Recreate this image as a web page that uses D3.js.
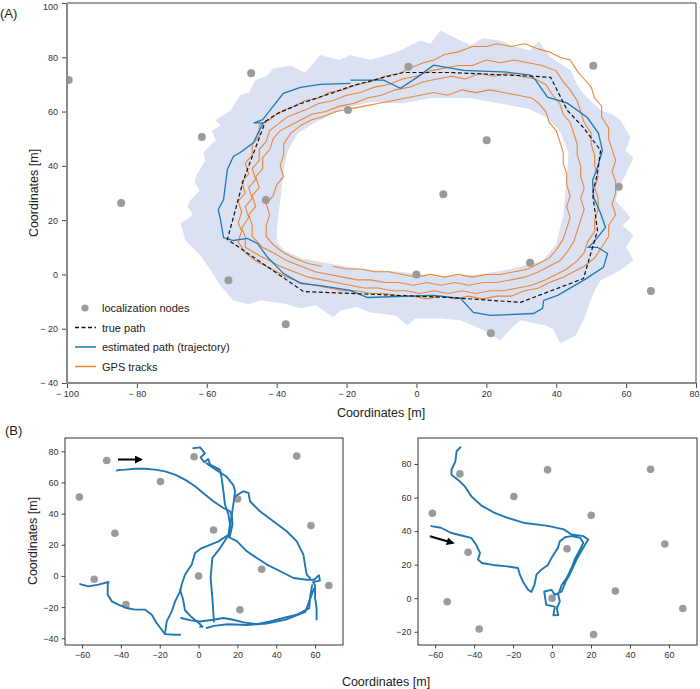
<!DOCTYPE html>
<html>
<head>
<meta charset="utf-8">
<script src="https://cdn.jsdelivr.net/npm/d3@7"></script>
<style>
  body { margin: 0; background: #fff; }
  svg { font-family: "Liberation Sans", Arial, sans-serif; }
</style>
</head>
<body>
<script>
// ---- data (metres) ----
const nodeX = [-99.5, -84.5, -61.4, -47.3, -43.1, -53.8, -37.4, -19.6, -2.3, 0, 7.7, 20.1, 21.3, 32.5, 50.6, 57.9, 67.1];
const nodeY = [71.6, 26.3, 50.6, 74.1, 27.4, -2.1, -18.4, 60.6, 76.5, 0, 29.5, 49.4, -21.7, 4.3, 76.9, 32.3, -6.1];

const truePath = [[-43.2,56.4],[-39.8,59.3],[-33.2,62.9],[-23.8,67],[-18.9,69.3],[-9.4,72.6],[-3.7,74.4],[9.7,74.4],[33.5,73],[38.4,72.6],[43.2,60.4],[47.8,54.1],[52.7,45.7],[51.8,37.2],[50.4,29.8],[51.8,16.2],[47.8,-1.5],[29.8,-10.3],[9.7,-8.5],[-18.9,-7],[-32.3,-6.3],[-54.1,12.9],[-49.5,34.8],[-43.2,56.4]];

const estPath = [[-18.9,70.4],[-27.5,70],[-33.2,68.9],[-38.1,66.7],[-42.6,59.3],[-44,57],[-46.6,55.8],[-43.8,55.8],[-45,53],[-46.6,48.6],[-50.4,44.9],[-52.4,43.5],[-54.1,38.7],[-55.2,27.6],[-56.7,23.9],[-56.1,20.3],[-55.2,13.6],[-52.4,12.5],[-48.4,13.3],[-45.5,11.4],[-42.6,6.3],[-38.1,0.4],[-33.2,-3.3],[-27.5,-4.1],[-18.9,-5.9],[-14,-8.5],[4.9,-7.7],[12.6,-8.8],[16.3,-14],[21.2,-15.1],[33.5,-14.4],[36.1,-12.5],[36.4,-9.6],[40.4,-7.7],[47.8,-2.2],[53.5,2.6],[54.7,7.7],[51.8,10],[49.2,10],[50.7,11.8],[54.1,17.3],[52.7,22.5],[50.7,28.4],[50.4,34.6],[51.8,39.4],[53.2,45.7],[52.1,52],[48.9,57.8],[43.2,63.1],[37.5,65.3],[34.1,71.6],[32.6,73.4],[26,74.5],[13.5,75.2],[4.9,77.1],[0.3,72.7],[-4.6,68.6],[-9.4,71.6],[-18.9,71.6]];

const gps1 = [[-51,12],[-50,16],[-51,19],[-50,23],[-51,27],[-49,30],[-50,34],[-48,37],[-49,41],[-47,44],[-47,48],[-45,51],[-45,55],[-42,57],[-40,59],[-37,61],[-35,62],[-32,64],[-28,65],[-25,67],[-21,68],[-17,70],[-13,71],[-9,73],[-5,74],[-2,76],[2,78],[5,79],[8,81],[12,82],[16,84],[20,84],[23,85],[27,84],[31,85],[35,83],[38,82],[41,80],[44,79],[46,75],[48,72],[50,69],[51,65],[53,62],[53,58],[55,54],[55,50],[56,46],[57,42],[56,38],[57,34],[57,30],[56,26],[57,22],[55,18],[55,14],[53,10],[51,6],[48,3],[45,1],[42,-1],[38,-3],[35,-5],[31,-6],[27,-8],[23,-8],[19,-9],[15,-8],[11,-9],[7,-8],[3,-9],[-1,-8],[-5,-8],[-9,-7],[-13,-7],[-17,-6],[-21,-6],[-25,-5],[-29,-4],[-33,-3],[-37,-1],[-40,1],[-43,3],[-46,5],[-49,8],[-51,12]];
const gps2 = [[-49,10],[-49,14],[-50,17],[-48,21],[-49,25],[-47,28],[-48,32],[-46,35],[-47,39],[-45,42],[-45,46],[-43,49],[-42,53],[-40,55],[-37,58],[-35,59],[-31,61],[-28,63],[-24,64],[-20,66],[-16,67],[-12,69],[-8,70],[-4,72],[0,73],[4,75],[8,76],[12,77],[16,77],[20,79],[24,78],[28,79],[32,78],[36,77],[40,75],[42,71],[44,68],[46,64],[47,60],[48,56],[50,52],[50,48],[51,44],[51,40],[52,36],[51,32],[52,28],[52,24],[51,20],[51,16],[49,12],[48,8],[46,5],[43,2],[40,0],[37,-2],[33,-4],[29,-5],[25,-6],[21,-6],[17,-7],[13,-6],[9,-7],[5,-6],[1,-7],[-3,-6],[-7,-6],[-11,-5],[-15,-5],[-19,-4],[-23,-3],[-27,-2],[-31,-1],[-35,1],[-39,3],[-42,5],[-45,7],[-49,10]];
const gps3 = [[-47,14],[-47,18],[-48,22],[-46,25],[-47,29],[-45,32],[-46,36],[-44,39],[-44,43],[-42,46],[-41,50],[-39,53],[-36,55],[-33,57],[-30,59],[-26,60],[-22,62],[-18,63],[-14,65],[-10,66],[-6,68],[-2,69],[2,71],[6,72],[10,73],[14,72],[18,74],[22,73],[26,74],[30,73],[34,72],[37,70],[39,66],[41,63],[42,59],[44,56],[45,52],[46,48],[46,44],[47,40],[47,36],[48,32],[47,28],[48,24],[47,20],[46,16],[45,12],[43,8],[41,5],[38,3],[35,1],[31,-1],[27,-2],[23,-3],[19,-3],[15,-4],[11,-3],[7,-4],[3,-3],[-1,-4],[-5,-3],[-9,-3],[-13,-2],[-17,-2],[-21,-1],[-25,0],[-29,1],[-33,3],[-37,5],[-41,8],[-44,10],[-47,14]];
const gps4 = [[-27,3],[-31,4],[-35,6],[-38,8],[-41,11],[-43,14],[-43,18],[-42,22],[-43,26],[-41,29],[-40,33],[-38,36],[-39,40],[-38,44],[-38,48],[-36,52],[-33,55],[-30,57],[-27,58],[-23,60],[-19,61],[-15,62],[-11,63],[-7,64],[-3,65],[1,66],[5,67],[9,66],[13,68],[17,67],[21,68],[25,67],[29,66],[33,65],[35,63],[37,60],[38,56],[40,53],[41,49],[42,45],[42,41],[43,37],[43,33],[44,29],[43,25],[44,21],[43,17],[42,13],[40,9],[38,6],[35,4],[32,2],[28,1],[24,0],[20,0],[16,-1],[12,0],[8,-1],[4,0],[0,-1],[-4,0],[-8,1],[-12,1],[-16,2],[-20,2],[-24,3]];
const gpsTracks = [gps1, gps2, gps3, gps4];

const cloudOuter = [[-67.5,18.8],[-64,22],[-65.5,25],[-64.7,27.3],[-62,31],[-63.5,34],[-62.7,37.2],[-60.4,42],[-61,45],[-57.5,49.4],[-58.5,53],[-56,55],[-57.5,56.8],[-53.2,60.4],[-52,63],[-50.4,66],[-48,67],[-46.1,71.5],[-43,73],[-40.9,75.9],[-36.1,77],[-33,75],[-31.8,74.4],[-27.5,80.8],[-22,79],[-18.9,80.8],[-13.2,79],[-8,81],[-4.6,82.5],[1.1,86.2],[4,85],[6.9,89.9],[9.7,88],[12.6,86.2],[15.5,84.4],[19,87],[24,86.2],[28,84],[32.6,82.5],[35,86],[36.9,82.5],[38.4,80],[42,77],[44.1,75.2],[46,70],[47.8,66.7],[52.7,60.4],[56,59],[58.4,56.8],[61.3,50.5],[59.8,45.7],[62.1,43.1],[59.8,36.5],[58,32],[57,27.3],[61.3,21],[59,18],[62.1,14.4],[60,10],[62.1,5.2],[58.4,1.5],[52.7,-2.2],[51,-6],[49.8,-9.6],[47.8,-17],[45.5,-22.5],[41.2,-25.4],[39,-20],[36.9,-18.8],[29.8,-16.9],[27,-20],[24,-24.3],[19.2,-20.6],[12.6,-16.9],[6.9,-16.2],[-0.3,-16.2],[-2.6,-18.8],[-6,-15.1],[-13.2,-14],[-17,-12],[-21.8,-13.3],[-23.8,-15.8],[-28.9,-11.4],[-33,-12.5],[-38.1,-10.7],[-44.6,-9.6],[-48,-11],[-52.4,-9.6],[-56.1,-4.1],[-58.9,1.5],[-61.8,7],[-66.1,12.5]];
const cloudInner = [[-40,16],[-39,27],[-38,38],[-37,45],[-34,52],[-29,56],[-21,61],[-13,63.5],[-4,63],[4,65],[15,65],[24,63],[32,61],[37,58],[41,53],[43.5,45],[43,35],[42,22],[40,11],[36,5],[27,2],[18,0],[7,-1],[-5,1],[-16,2],[-25,4],[-33,6],[-38,9],[-40,12]];

// panel B trajectories
const leftTracks = [
  [[-42.1,67.6],[-41,68],[-37.9,68.2],[-32.7,68.8],[-27.6,68.8],[-22.4,68.2],[-17.3,67.1],[-12.1,65],[-7,61.8],[-1.8,57.5],[3.3,52.2],[7.6,47.9],[12.8,43.6],[16.2,41.5],[17,39],[16.5,33],[15.4,25]],
  [[-2.7,81.9],[0.8,82.5],[3.3,78.7],[1,76],[3,73],[5,75],[5.9,71.4],[11,68.2],[11.9,62.9],[12.8,54.3],[13.6,45.8],[15.4,39.4],[16.2,33],[15.4,26.6]],
  [[4.2,72.2],[9.3,67.9],[14.5,63.6],[17.9,58.3],[18.8,54.3],[17.9,45.8],[17.1,39.3],[17.5,33],[16,25]],
  [[18.8,51.1],[23.1,54.3],[25.7,53.3],[26.5,47.9],[31.6,41.5],[38.5,35.1],[45.4,28.7],[50.5,22.3],[54,13.7],[54.8,7.3],[55.7,0.9],[57.4,-1.3]],
  [[15.4,25],[19.7,22.3],[24.9,15.8],[30,11.5],[35.2,7.3],[42.1,3],[48.9,-1.3],[55.7,-2.4],[59.5,-2.4],[62,0.5],[62.5,-3],[59,-4],[60,-6],[60,-14.1],[60.8,-20.6],[60.8,-28]],
  [[58.5,-6],[57.4,-14],[57,-20.6],[50.5,-24.9],[43.6,-27],[36.8,-29.2],[29.9,-30.9],[23.1,-29.8],[17.9,-28.1],[12.8,-27],[7.6,-28.1],[0.8,-29.2],[-4,-28.5],[-9,-27]],
  [[59.5,-8],[55,-23],[45,-28],[35,-30.5],[25,-31.5],[15,-31],[8,-32],[4.2,-33.4]],
  [[14.5,24.4],[11.1,17.9],[7.1,11.5],[6.2,-1.3],[7.1,-14.1],[7.9,-29.2]],
  [[15,26],[10,22],[4,19],[1.6,17.9],[-1.8,14.7],[-3.5,7.3],[-7,0.8],[-8.7,-5.6],[-9.5,-9.9],[-12.1,-16.3],[-13.8,-22.7],[-16.4,-29.1],[-17.3,-37.3]],
  [[-61,-5.2],[-56.7,-6.7],[-51.6,-5.6],[-46.4,-3.9],[-46.8,-6],[-46.8,-12],[-44.7,-16.3],[-41.3,-18.4],[-37,-20.6],[-32.7,-21.6],[-27.6,-21.6],[-24.1,-24.9],[-21.6,-30.2],[-19,-34.5],[-17.3,-37.3],[-12.1,-37.7],[-9.5,-37.7]],
  [[-9.5,-9],[-8,-15],[-7,-22],[-4,-26],[0,-30],[2,-32.5],[0.8,-32.6]]
];
const rightTrack = [[-62,43],[-57,42],[-52,39],[-47,37.5],[-41.5,36],[-39,32],[-37,27],[-38,23],[-36,21],[-29,19.6],[-23,19],[-17.5,18],[-16.5,14],[-15,10],[-12.3,5],[-10.6,3.7],[-9,8],[-8,14],[-5.5,17],[-2,20],[-0.3,24],[3,30],[4,34],[6.7,36.3],[10,37],[14.4,36],[16,33],[14.4,29],[12,24],[10,18],[7.5,12],[5,8],[3.2,2],[4,-2],[2.4,-6],[3.2,-10],[0.7,-10.2],[1.4,-5],[-3,-4],[-4,4],[-0.3,5],[1.4,2],[5,4],[7,10],[9,14],[11,19],[13,24],[15,28],[17,32],[18.6,35],[16,37],[10,38],[6,41],[-1,42.8],[-4,43.4],[-14,44.8],[-22.6,47.8],[-29.4,50.8],[-36,55],[-41.4,60.7],[-44.8,66.7],[-47.4,69.7],[-51.6,73.6],[-51.6,76.6],[-49.6,81.6],[-49,87.6],[-47,90]];
const arrowLeft = [[-41.5,74.7],[-29.5,74.7]];
const arrowRight = [[-62.7,36.9],[-50.8,32.9]];

const xTicksA = [-100, -80, -60, -40, -20, 0, 20, 40, 60, 80];
const yTicksA = [-40, -20, 0, 20, 40, 60, 80, 100];
const xTicksB = [-60, -40, -20, 0, 20, 40, 60];
const yTicksB1 = [-40, -20, 0, 20, 40, 60, 80];
const yTicksB2 = [-20, 0, 20, 40, 60, 80];

const legendLabels = ["localization nodes", "true path", "estimated path (trajectory)", "GPS tracks"];

const BLUE = "#1f77b4", ORANGE = "#ec8638", NODE = "#9b9b9b", CLOUD = "#d9e1f2";

const svg = d3.select("body").append("svg").attr("width", 700).attr("height", 689);
const defs = svg.append("defs");
defs.append("marker").attr("id", "ah").attr("viewBox", "0 0 10 10")
  .attr("refX", 8).attr("refY", 5).attr("markerWidth", 4).attr("markerHeight", 4)
  .attr("orient", "auto")
  .append("path").attr("d", "M0,0L10,5L0,10z").attr("fill", "#000");

function styleAxis(g, fs) {
  g.select(".domain").remove();
  g.selectAll(".tick line").attr("stroke", "#333").attr("stroke-width", 0.9);
  g.selectAll(".tick text").attr("fill", "#333").style("font-size", fs + "px");
}
function clip(id, x0, y0, w, h) {
  defs.append("clipPath").attr("id", id).append("rect").attr("x", x0).attr("y", y0).attr("width", w).attr("height", h);
}

// ---------- panel A ----------
const xA = d3.scaleLinear().domain([-100, 80]).range([67, 696]);
const yA = d3.scaleLinear().domain([-40, 100]).range([383, 3]);
clip("cA", 67, 3, 629, 380);
const lineA = d3.line().x(d => xA(d[0])).y(d => yA(d[1]));
const gA = svg.append("g").attr("clip-path", "url(#cA)");

gA.append("path").attr("d", lineA(cloudOuter) + "Z" + lineA(cloudInner) + "Z")
  .attr("fill", CLOUD).attr("fill-rule", "evenodd");
gA.selectAll(".gps").data(gpsTracks).enter().append("path")
  .attr("d", lineA).attr("fill", "none").attr("stroke", ORANGE).attr("stroke-width", 1.1);
gA.append("path").attr("d", lineA(estPath)).attr("fill", "none").attr("stroke", BLUE).attr("stroke-width", 1.3);
gA.append("path").attr("d", lineA(truePath)).attr("fill", "none").attr("stroke", "#111")
  .attr("stroke-width", 1.2).attr("stroke-dasharray", "4,2.5");
gA.selectAll(".node").data(nodeX).enter().append("circle")
  .attr("cx", d => xA(d)).attr("cy", (d, i) => yA(nodeY[i])).attr("r", 4).attr("fill", NODE);

const fmtA = d => d < 0 ? "\u2212 " + (-d) : String(d);
const axYA = svg.append("g").attr("transform", "translate(67,0)")
  .call(d3.axisLeft(yA).tickValues(yTicksA).tickSize(5).tickPadding(4).tickFormat(fmtA));
styleAxis(axYA, 9);
// keep the top label inside the picture
axYA.selectAll(".tick text").filter(d => d === 100).attr("dy", "0.75em");
const axXA = svg.append("g").attr("transform", "translate(0,383)")
  .call(d3.axisBottom(xA).tickValues(xTicksA).tickSize(5).tickPadding(3).tickFormat(fmtA));
styleAxis(axXA, 9);
axXA.selectAll(".tick text").filter(d => d === 80).attr("text-anchor", "end").attr("dx", "3");
svg.append("line").attr("x1", 67).attr("x2", 696).attr("y1", 3).attr("y2", 3).attr("stroke", "#444").attr("stroke-width", 1);
svg.append("line").attr("x1", 696).attr("x2", 696).attr("y1", 3).attr("y2", 383).attr("stroke", "#444").attr("stroke-width", 1);
svg.append("line").attr("x1", 67).attr("x2", 67).attr("y1", 3).attr("y2", 384).attr("stroke", "#8a8a8a").attr("stroke-width", 2);
svg.append("line").attr("x1", 66).attr("x2", 696).attr("y1", 383).attr("y2", 383).attr("stroke", "#8a8a8a").attr("stroke-width", 2);

svg.append("text").attr("x", 381).attr("y", 417).attr("text-anchor", "middle").style("font-size", "12.5px").attr("fill", "#222").text("Coordinates [m]");
svg.append("text").attr("transform", "translate(38,193) rotate(-90)").attr("text-anchor", "middle").style("font-size", "12.5px").attr("fill", "#222").text("Coordinates [m]");
svg.append("text").attr("x", 0).attr("y", 18).style("font-size", "13px").attr("fill", "#222").text("(A)");

// legend
const lg = svg.append("g");
const ly = [308, 327.5, 347, 366.5];
lg.append("circle").attr("cx", 85).attr("cy", ly[0]).attr("r", 3.6).attr("fill", NODE);
lg.append("line").attr("x1", 75).attr("x2", 96).attr("y1", ly[1]).attr("y2", ly[1]).attr("stroke", "#111").attr("stroke-width", 1.3).attr("stroke-dasharray", "4,2.5");
lg.append("line").attr("x1", 75).attr("x2", 96).attr("y1", ly[2]).attr("y2", ly[2]).attr("stroke", BLUE).attr("stroke-width", 1.5);
lg.append("line").attr("x1", 75).attr("x2", 96).attr("y1", ly[3]).attr("y2", ly[3]).attr("stroke", ORANGE).attr("stroke-width", 1.5);
lg.selectAll("text").data(legendLabels).enter().append("text")
  .attr("x", 102).attr("y", (d, i) => ly[i] + 4).style("font-size", "11px").attr("fill", "#222").text(d => d);

// ---------- panel B ----------
svg.append("text").attr("x", 5).attr("y", 435).style("font-size", "13px").attr("fill", "#222").text("(B)");

function panelB(id, x0, x1, yDom, yTicks, tracks, arrow) {
  const x = d3.scaleLinear().domain([-68.8, 74.4]).range([x0, x1]);
  const y = d3.scaleLinear().domain(yDom).range([645, 438]);
  clip(id, x0, 438, x1 - x0, 207);
  const line = d3.line().x(d => x(d[0])).y(d => y(d[1]));
  const g = svg.append("g").attr("clip-path", "url(#" + id + ")");
  g.selectAll(".n").data(nodeX).enter().append("circle")
    .attr("cx", d => x(d)).attr("cy", (d, i) => y(nodeY[i])).attr("r", 3.8).attr("fill", NODE);
  g.selectAll(".t").data(tracks).enter().append("path").attr("d", line)
    .attr("fill", "none").attr("stroke", BLUE).attr("stroke-width", 1.9)
    .attr("stroke-linejoin", "round").attr("stroke-linecap", "round");
  g.append("path").attr("d", line(arrow)).attr("stroke", "#000").attr("stroke-width", 2)
    .attr("fill", "none").attr("marker-end", "url(#ah)");
  styleAxis(svg.append("g").attr("transform", `translate(${x0},0)`)
    .call(d3.axisLeft(y).tickValues(yTicks).tickSize(3.5).tickPadding(3)), 9);
  styleAxis(svg.append("g").attr("transform", "translate(0,645)")
    .call(d3.axisBottom(x).tickValues(xTicksB).tickSize(3.5).tickPadding(3)), 9);
  svg.append("rect").attr("x", x0).attr("y", 438).attr("width", x1 - x0).attr("height", 207)
    .attr("fill", "none").attr("stroke", "#333").attr("stroke-width", 1);
}
panelB("cB1", 65, 343, [-44.3, 88.5], yTicksB1, leftTracks, arrowLeft);
panelB("cB2", 418, 697, [-27.9, 95.5], yTicksB2, [rightTrack], arrowRight);

svg.append("text").attr("x", 386).attr("y", 686).attr("text-anchor", "middle").style("font-size", "12.5px").attr("fill", "#222").text("Coordinates [m]");
svg.append("text").attr("transform", "translate(37,541) rotate(-90)").attr("text-anchor", "middle").style("font-size", "12.5px").attr("fill", "#222").text("Coordinates [m]");
</script>
</body>
</html>
